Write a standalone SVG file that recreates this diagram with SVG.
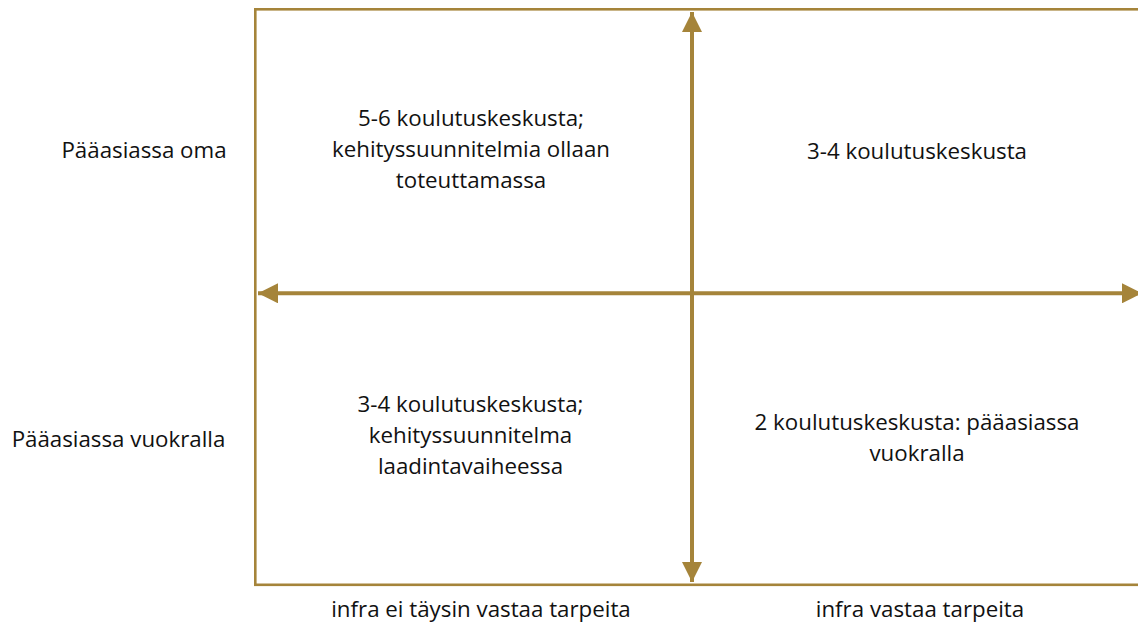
<svg xmlns="http://www.w3.org/2000/svg" width="1138" height="628" viewBox="0 0 1138 628">
<defs>
<style>
.t{font-family:"Open Sans","Noto Sans",sans-serif;font-size:22.3px;fill:#111111;text-anchor:middle}
.ln{stroke:#A5843A;fill:none}
</style>
<marker id="ah" viewBox="0 0 10 10" refX="10" refY="5" markerWidth="5" markerHeight="5" markerUnits="strokeWidth" orient="auto-start-reverse">
<path d="M0,0 L10,5 L0,10 Z" fill="#A5843A"/>
</marker>
</defs>
<rect width="1138" height="628" fill="#ffffff"/>
<g id="frame"><rect class="ln" x="255.3" y="9.3" width="900" height="575.5" stroke-width="2.6"/></g>
<g id="connectors">
<line class="ln" x1="692" y1="12" x2="692" y2="582" stroke-width="4" marker-start="url(#ah)" marker-end="url(#ah)"/>
<line class="ln" x1="258" y1="293.3" x2="1142" y2="293.3" stroke-width="4" marker-start="url(#ah)" marker-end="url(#ah)"/>
</g>
<g id="row-labels">
<text class="t" x="144" y="158">Pääasiassa oma</text>
<text class="t" x="118.5" y="447">Pääasiassa vuokralla</text>
</g>
<g id="q1"><text class="t" x="471" y="126">5-6 koulutuskeskusta;</text><text class="t" x="471" y="157">kehityssuunnitelmia ollaan</text><text class="t" x="471" y="188">toteuttamassa</text></g>
<g id="q2"><text class="t" x="917" y="159">3-4 koulutuskeskusta</text></g>
<g id="q3"><text class="t" x="470.5" y="412">3-4 koulutuskeskusta;</text><text class="t" x="470.5" y="443">kehityssuunnitelma</text><text class="t" x="470.5" y="474">laadintavaiheessa</text></g>
<g id="q4"><text class="t" x="917" y="430">2 koulutuskeskusta: pääasiassa</text><text class="t" x="917" y="461">vuokralla</text></g>
<g id="col-labels">
<text class="t" x="481" y="617">infra ei täysin vastaa tarpeita</text>
<text class="t" x="920" y="617">infra vastaa tarpeita</text>
</g>
</svg>
